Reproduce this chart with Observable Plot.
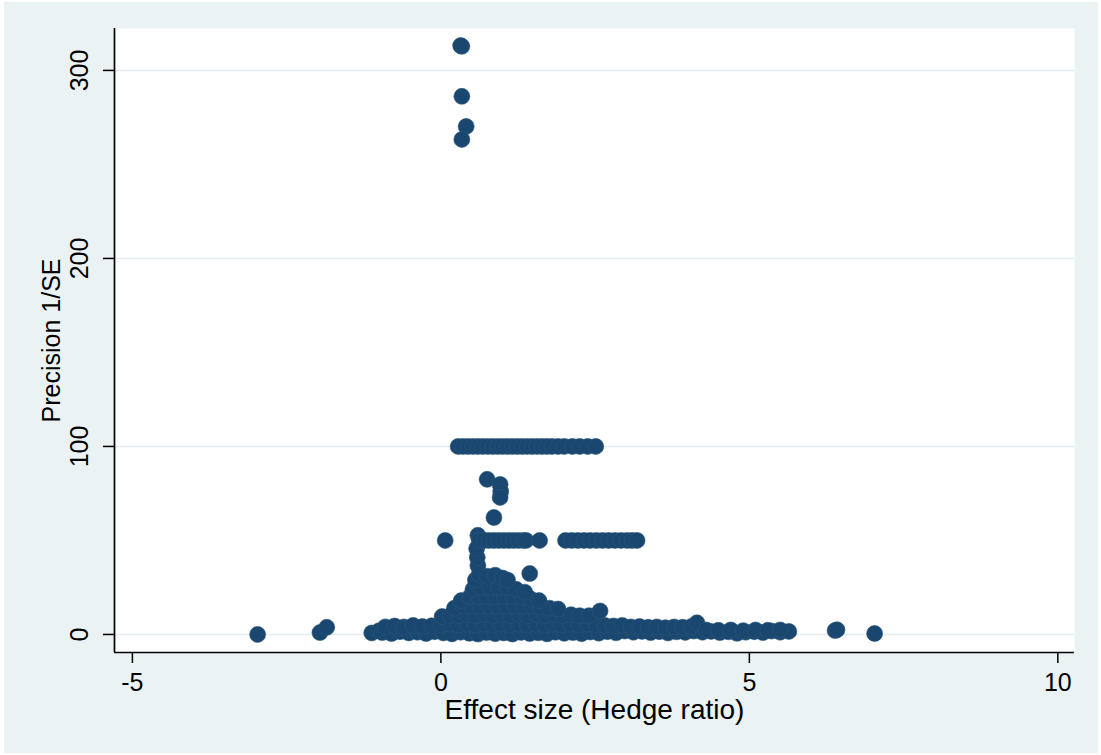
<!DOCTYPE html>
<html><head><meta charset="utf-8">
<script src="https://cdn.jsdelivr.net/npm/d3@7"></script>
<script src="https://cdn.jsdelivr.net/npm/@observablehq/plot@0.6"></script>
<style>
html,body{margin:0;padding:0;background:#fff;}
#wrap{position:relative;width:1101px;height:755px;overflow:hidden;}
#bg{position:absolute;left:4px;top:2px;right:3px;bottom:2px;background:#eaf2f3;}
#chart{position:absolute;left:0;top:0;}
</style></head><body>
<div id="wrap"><div id="bg"></div><div id="chart"></div></div>
<script>
// ---- Data (effect size = Hedges g, precision = 1/SE) ----
const xTitle = "Effect size (Hedge ratio)";
const yTitle = "Precision 1/SE";
const xTicks = [-5, 0, 5, 10];
const yTicks = [0, 100, 200, 300];

const topEffect    = [0.34, 0.32, 0.34, 0.41, 0.34];
const topPrecision = [312.8, 313.2, 286.2, 270.2, 263.3];

const midEffect    = [0.75, 0.96, 0.97, 0.96, 0.86, 1.44, 0.60, 0.59, 0.58, 0.60];
const midPrecision = [82.5, 79.8, 76.0, 72.9, 62.2, 32.4, 36.7, 41.0, 45.7, 52.7];

// studies with precision = 100
const effect100 = [0.28, 0.36, 0.44, 0.52, 0.60, 0.68, 0.76, 0.84, 0.92, 1.00, 1.08, 1.16,
                   1.24, 1.32, 1.40, 1.48, 1.56, 1.64, 1.72, 1.80, 1.90, 2.00, 2.13, 2.25, 2.38, 2.51];
// studies with precision = 50
const effect50 = [0.07, 0.62, 0.70, 0.78, 0.86, 0.94, 1.02, 1.10, 1.18, 1.26, 1.34, 1.38, 1.60,
                  2.02, 2.12, 2.22, 2.32, 2.42, 2.52, 2.62, 2.72, 2.82, 2.92, 3.02, 3.10, 3.18];

const outlierEffect    = [-2.97, -1.96, -1.85, -1.12, -1.00, 6.39, 6.42, 7.03];
const outlierPrecision = [0.0, 1.0, 3.8, 0.8, 2.0, 2.1, 2.5, 0.5];

// dense low-precision mass, read band by band
const massRowA = [[-0.95,1],[-0.8,0.5],[-0.66,1.5],[-0.52,0.8],[-0.38,1.2],[-0.24,0.5],[-0.1,1.5],[0.04,0.8],
  [0.18,0.3],[0.32,1.2],[0.46,0.6],[0.6,0.2],[0.74,1],[0.88,0.4],[1.02,0.8],[1.16,0.2],[1.3,1.1],[1.44,0.5],
  [1.58,0.9],[1.72,0.3],[1.86,1.2],[2.0,0.6],[2.14,1],[2.28,0.4],[2.42,1.3],[2.56,0.7],[2.7,1.5],[2.84,0.9],
  [2.98,1.8],[3.12,1.2],[3.26,1.6],[3.4,1],[3.54,1.5],[3.68,0.8],[3.82,1.4],[3.96,1.1],[4.1,1.8],[4.24,1.2],
  [4.38,1.6],[4.52,1],[4.66,1.4],[4.8,0.6],[4.94,1.2],[5.08,1.5],[5.22,1],[5.36,1.8],[5.5,1.2],[5.64,1.6]];
const massRowB = [[-0.9,4],[-0.75,4.5],[-0.6,4],[-0.45,4.8],[-0.3,4.2],[-0.15,4.6],[0,5],[0.14,5.5],[0.28,5],
  [0.42,5.5],[0.56,5],[0.7,5.5],[0.84,5],[0.98,5.5],[1.12,5],[1.26,5.5],[1.4,5],[1.54,5.5],[1.68,5],[1.82,5.5],
  [1.96,5],[2.1,5.5],[2.24,5],[2.38,5.5],[2.52,5],[2.66,4.8],[2.8,4.5],[2.94,4.8],[3.08,4],[3.22,4.2],[3.36,3.8],
  [3.5,4],[3.64,3.6],[3.78,4],[3.92,3.8],[4.06,4.2],[4.15,6.2],[4.3,2.4],[4.5,2.2],[4.7,2.4],[4.9,2],[5.1,2.4],
  [5.3,2.2],[5.5,2.4]];
const massRowC = [[0.02,9.5],[0.15,10],[0.29,10],[0.43,10.5],[0.57,10],[0.71,10.5],[0.85,10],[0.99,10.5],
  [1.13,10],[1.27,10.5],[1.41,10],[1.55,10.5],[1.69,10],[1.83,10.5],[1.97,10],[2.11,10.5],[2.25,10],[2.4,10],[2.58,12.5]];
const massRowD = [[0.22,14],[0.36,15],[0.5,15],[0.64,15],[0.78,15],[0.92,15],[1.06,15],[1.2,15],[1.34,15],
  [1.48,15],[1.62,14.5],[1.76,14],[1.9,13.5]];
const massRowE = [[0.33,18],[0.47,20],[0.61,20],[0.75,20],[0.89,20],[1.03,20],[1.17,20],[1.31,20],[1.45,19],[1.59,18]];
const massRowF = [[0.52,24],[0.66,25],[0.8,25],[0.94,25],[1.08,25],[1.22,24],[1.36,22.5]];
const massRowG = [[0.56,29],[0.62,32],[0.75,31],[0.88,31.5],[1.0,30],[1.08,29]];

// ---- build table ----
const points = [];
topEffect.forEach((e, i) => points.push({effect: e, precision: topPrecision[i]}));
midEffect.forEach((e, i) => points.push({effect: e, precision: midPrecision[i]}));
effect100.forEach(e => points.push({effect: e, precision: 100}));
effect50.forEach(e => points.push({effect: e, precision: 50}));
outlierEffect.forEach((e, i) => points.push({effect: e, precision: outlierPrecision[i]}));
[massRowA, massRowB, massRowC, massRowD, massRowE, massRowF, massRowG].forEach(row =>
  row.forEach(([e, p]) => points.push({effect: e, precision: p})));

const xDomain = [-5.29, 10.27];
const yDomain = [-9.6, 322.3];
const font = "'Liberation Sans', Arial, Helvetica, sans-serif";

const chart = Plot.plot({
  width: 1101, height: 755,
  marginLeft: 114, marginRight: 27, marginTop: 28, marginBottom: 103,
  x: {domain: xDomain},
  y: {domain: yDomain},
  style: {background: "transparent", fontFamily: font, fontSize: "25px", color: "#000", overflow: "visible"},
  marks: [
    Plot.frame({fill: "#fff", stroke: "none"}),
    Plot.gridY(yTicks, {stroke: "#e4ecf0", strokeOpacity: 1, strokeWidth: 1.6}),
    Plot.dot(points, {x: "effect", y: "precision", r: 8, fill: "#1a476f", stroke: "#2a5579", strokeWidth: 0.6}),
    Plot.ruleX([xDomain[0]], {stroke: "#000", strokeWidth: 1.7}),
    Plot.ruleY([yDomain[0]], {stroke: "#000", strokeWidth: 1.7}),
    Plot.axisX(xTicks, {tickSize: 11, tickPadding: 10, tickFormat: d => String(d), label: null, stroke: "#000", strokeWidth: 1.5, fontSize: 25}),
    Plot.axisY(yTicks, {tickSize: 11, tickPadding: 16, tickRotate: -90, tickFormat: d => String(d), label: null, stroke: "#000", strokeWidth: 1.5, fontSize: 25}),
    Plot.text([xTitle], {text: d => d, frameAnchor: "bottom", dy: 66, fontSize: 28, textAnchor: "middle"}),
    Plot.text([yTitle], {text: d => d, frameAnchor: "left", dx: -63, rotate: -90, fontSize: 25, textAnchor: "middle"})
  ]
});
document.getElementById("chart").appendChild(chart);
</script></body></html>
